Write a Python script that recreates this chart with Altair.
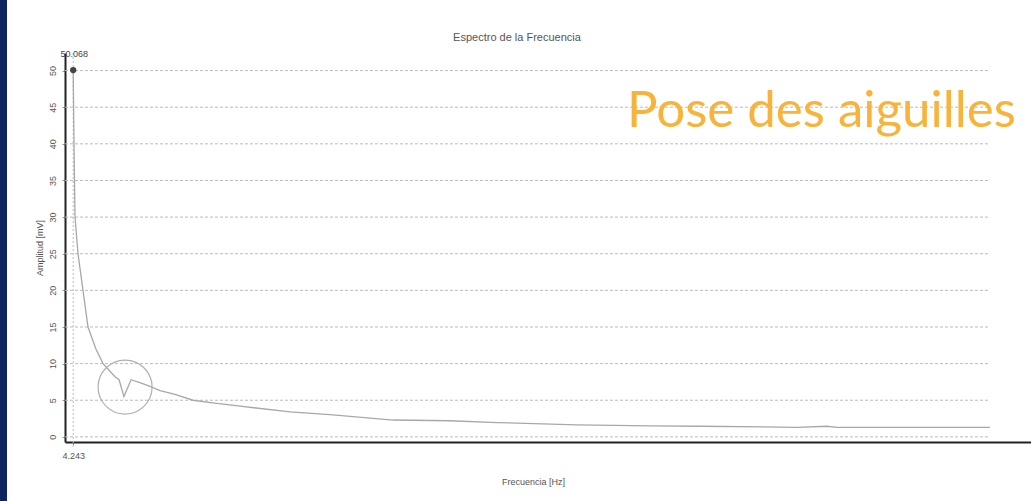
import altair as alt
import pandas as pd

# Spectrum: frequency (Hz) and amplitude (mV)
freq = [4.243, 4.66, 5.18, 6.73, 9.32, 11.9, 16.0, 19.7, 21.7, 25.9, 28.0, 30.5,
        34.2, 38.8, 44.0, 49.2, 56.9, 66.3, 77.6, 90.6, 116.5, 138.7, 169.8,
        199.3, 223.6, 265.0, 302.8, 328.7, 378.9, 394.4, 399.6, 432.2, 478.8]
amp = [50.068, 40.0, 30.0, 25.0, 20.0, 15.0, 12.0, 10.0, 9.4, 8.2, 7.8, 5.5,
       7.8, 7.4, 6.9, 6.3, 5.8, 5.0, 4.6, 4.2, 3.4, 3.0, 2.3,
       2.2, 1.95, 1.65, 1.5, 1.45, 1.3, 1.45, 1.3, 1.3, 1.3]

y_ticks = [0, 5, 10, 15, 20, 25, 30, 35, 40, 45, 50]
x_ticks = [4.243]
peak_freq = [4.243]
peak_amp = [50.068]
grid_end = 478.8
circle_freq = [31.1]
circle_amp = [6.8]

XT = "Frecuencia [Hz]"
YT = "Amplitud [mV]"

df = pd.DataFrame({"f": freq, "a": amp})
grid_df = pd.DataFrame({"a": y_ticks, "f": [0.0] * len(y_ticks), "f2": [grid_end] * len(y_ticks)})
peak_df = pd.DataFrame({"f": peak_freq, "a": peak_amp, "lbl": ["50.068"]})
circ_df = pd.DataFrame({"f": circle_freq, "a": circle_amp})

xs = alt.Scale(domain=[0, 500], nice=False, zero=False)
ys = alt.Scale(domain=[-0.7, 52.4], nice=False, zero=False)

FONT = "Liberation Sans"

x_axis = alt.Axis(values=x_ticks, format=".3f", titleX=468, titleY=35, titleBaseline="top")
y_axis = alt.Axis(values=y_ticks, tickCount=11, labelOverlap=False, labelAngle=270,
                  labelAlign="center", labelBaseline="bottom", labelBound=False)

X = lambda field="f:Q": alt.X(field, scale=xs, title=XT, axis=x_axis)
Y = lambda field="a:Q": alt.Y(field, scale=ys, title=YT, axis=y_axis)

grid = alt.Chart(grid_df).mark_rule(color="#bbbbbb", strokeWidth=1, strokeDash=[3, 2]).encode(
    x=X(), x2="f2:Q", y=Y(),
)

vline = alt.Chart(peak_df).mark_rule(color="#bbbbbb", strokeWidth=1, strokeDash=[2, 2]).encode(
    x=X(),
    y=alt.value(0),
    y2=alt.value(395),
)

line = alt.Chart(df).mark_line(color="#a8a8a8", strokeWidth=1.3).encode(x=X(), y=Y())

circle = alt.Chart(circ_df).mark_point(shape="circle", filled=False, size=2916,
                                       color="#b0b0b0", strokeWidth=1.2, opacity=1).encode(x=X(), y=Y())

peak = alt.Chart(peak_df).mark_point(shape="circle", filled=True, size=40, color="#444444", opacity=1).encode(
    x=X(), y=Y()
)
peak_lbl = alt.Chart(peak_df).mark_text(fontSize=9, font=FONT, color="#444444", dy=-16, align="center", dx=1).encode(
    x=X(), y=Y(), text="lbl:N"
)

title = alt.Chart(peak_df).mark_text(fontSize=11, font=FONT, color="#555555", align="center").encode(
    x=alt.value(452), y=alt.value(-15), text=alt.value("Espectro de la Frecuencia")
)

overlay = alt.Chart(peak_df).mark_text(fontSize=51, font="Comic Sans MS, Lato", color="#F8B33A",
                                       align="left", baseline="alphabetic").encode(
    x=alt.value(562), y=alt.value(74), text=alt.value("Pose des aiguilles")
)

navy = alt.Chart(peak_df).mark_rect(color="#10235E").encode(
    x=alt.value(-65), x2=alt.value(-58), y=alt.value(-53), y2=alt.value(448)
)

chart = alt.layer(grid, vline, line, circle, peak, peak_lbl, title, overlay, navy).properties(
    width=966, height=389,
    autosize=alt.AutoSizeParams(type="none"),
    padding={"left": 65, "top": 53, "right": 0, "bottom": 59},
    background="white",
).configure_view(stroke=None).configure_axis(
    grid=False, domainColor="#222222", domainWidth=2, tickColor="#999999", tickSize=3,
    labelFontSize=9, labelColor="#555555", labelFont=FONT,
    titleFontSize=9, titleFont=FONT, titleColor="#555555", titleFontWeight="normal",
).configure_axisY(
    labelOverlap=False, labelPadding=5, titlePadding=4,
).configure_axisX(
    labelPadding=6,
)

chart.save("out.html", embed_options={"renderer": "svg", "actions": False})
